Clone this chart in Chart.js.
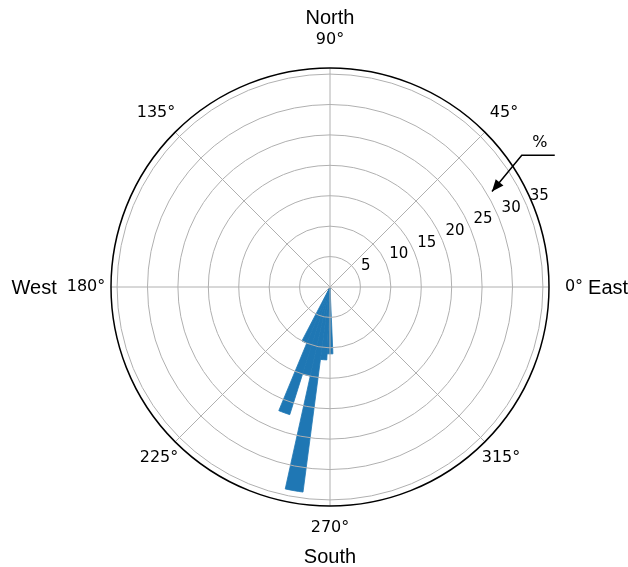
<!DOCTYPE html>
<html>
<head>
<meta charset="utf-8">
<script src="https://cdn.jsdelivr.net/npm/chart.js@4.4.0/dist/chart.umd.min.js"></script>
<style>
    html, body { margin: 0; padding: 0; background: #fff; }
    canvas { display: block; }
</style>
</head>
<body>
<canvas id="rose" width="628" height="567"></canvas>
<script>
// Direction bins (deg, counter-clockwise from East) and share of time (%)
const directions = [245, 250, 255, 260, 265, 270];
const percents = [10, 22, 15, 34, 12, 11];
const binWidth = 5;

// Radial axis
const rMax = 36;
const ringTicks = [5, 10, 15, 20, 25, 30, 35];
const ringLabelAngle = 22.5;

// Angular axis
const thetaTicks = [0, 45, 90, 135, 180, 225, 270, 315];
const compassNames = ['East', 'North', 'West', 'South'];

const BAR_BLUE = '#1f77b4';
const GRID_GREY = '#b0b0b0';

// Chart.js polarArea runs clockwise from the top, so turn the bins into
// consecutive arcs (empty arcs fill the gaps between bins)
function buildSegments() {
    const bins = directions.map((d, i) => {
        const c = ((90 - d) % 360 + 360) % 360;
        return { start: c - binWidth / 2, value: percents[i] };
    }).sort((a, b) => a.start - b.start);

    const values = [];
    const angles = [];
    let cursor = 0;
    bins.forEach(b => {
        if (b.start > cursor) {
            values.push(0);
            angles.push(b.start - cursor);
        }
        values.push(b.value);
        angles.push(binWidth);
        cursor = b.start + binWidth;
    });
    if (cursor < 360) {
        values.push(0);
        angles.push(360 - cursor);
    }
    return { values, angles };
}

const segs = buildSegments();

// Spokes, outer spine, labels and the "%" pointer
const polarDecor = {
    id: 'polarDecor',
    afterDraw(chart) {
        const r = chart.scales.r;
        const ctx = chart.ctx;
        const cx = r.xCenter;
        const cy = r.yCenter;
        const edge = r.getDistanceFromCenterForValue(rMax);
        const at = (value, deg) => {
            const d = r.getDistanceFromCenterForValue(value);
            const a = deg * Math.PI / 180;
            return { x: cx + d * Math.cos(a), y: cy - d * Math.sin(a) };
        };

        ctx.save();

        // spokes every 45 deg
        ctx.strokeStyle = GRID_GREY;
        ctx.lineWidth = 1;
        thetaTicks.forEach(t => {
            const p = at(rMax, t);
            ctx.beginPath();
            ctx.moveTo(cx, cy);
            ctx.lineTo(p.x, p.y);
            ctx.stroke();
        });

        // outer spine
        ctx.strokeStyle = '#000';
        ctx.lineWidth = 1.5;
        ctx.beginPath();
        ctx.arc(cx, cy, edge, 0, Math.PI * 2);
        ctx.stroke();

        // ring labels
        ctx.fillStyle = '#000';
        ctx.font = '15px "DejaVu Sans"';
        ctx.textAlign = 'left';
        ctx.textBaseline = 'alphabetic';
        ringTicks.forEach(v => {
            const p = at(v, ringLabelAngle);
            ctx.fillText(String(v), p.x + 3, p.y - 5.5);
        });

        // angle labels
        ctx.font = '16px "DejaVu Sans"';
        ctx.textAlign = 'center';
        ctx.textBaseline = 'middle';
        thetaTicks.forEach(t => {
            const a = t * Math.PI / 180;
            const d = edge + 25 + 3 * Math.sin(a);
            ctx.fillText(t + '\u00B0', cx + d * Math.cos(a), cy - d * Math.sin(a));
        });
        const w180 = ctx.measureText('180\u00B0').width;
        const w0 = ctx.measureText('0\u00B0').width;

        // compass words
        ctx.font = '20px "Liberation Sans", Arial, sans-serif';
        ctx.textBaseline = 'alphabetic';
        ctx.textAlign = 'center';
        ctx.fillText(compassNames[1], cx, cy - edge - 44);
        ctx.fillText(compassNames[3], cx, cy + edge + 57);
        ctx.textBaseline = 'middle';
        ctx.textAlign = 'right';
        ctx.fillText(compassNames[2], cx - edge - 25 - w180 / 2 - 10, cy + 1);
        ctx.textAlign = 'left';
        ctx.fillText(compassNames[0], cx + edge + 25 + w0 / 2 + 5, cy + 1);

        // "%" pointer
        const tip = at(30.9, 30.5);
        const elbow = at(38.25, 34.5);
        ctx.strokeStyle = '#000';
        ctx.lineWidth = 1.5;
        ctx.beginPath();
        ctx.moveTo(elbow.x + 33, elbow.y);
        ctx.lineTo(elbow.x, elbow.y);
        ctx.lineTo(tip.x, tip.y);
        ctx.stroke();
        const ang = Math.atan2(tip.y - elbow.y, tip.x - elbow.x);
        const len = 12, half = 5;
        ctx.beginPath();
        ctx.moveTo(tip.x, tip.y);
        ctx.lineTo(tip.x - len * Math.cos(ang) + half * Math.sin(ang),
                   tip.y - len * Math.sin(ang) - half * Math.cos(ang));
        ctx.lineTo(tip.x - len * Math.cos(ang) - half * Math.sin(ang),
                   tip.y - len * Math.sin(ang) + half * Math.cos(ang));
        ctx.closePath();
        ctx.fillStyle = '#000';
        ctx.fill();

        ctx.font = '16px "DejaVu Sans"';
        ctx.textAlign = 'center';
        ctx.textBaseline = 'middle';
        ctx.fillText('%', elbow.x + 18, elbow.y - 12);

        ctx.restore();
    }
};

new Chart(document.getElementById('rose'), {
    type: 'polarArea',
    data: {
        labels: segs.values.map((v, i) => 'seg' + i),
        datasets: [{
            data: segs.values,
            angle: segs.angles,
            backgroundColor: segs.values.map(v => v > 0 ? BAR_BLUE : 'rgba(0,0,0,0)'),
            borderColor: BAR_BLUE,
            // thin same-colour edge hides the anti-aliasing seams between arcs
            borderWidth: segs.values.map(v => v > 0 ? 0.8 : 0)
        }]
    },
    options: {
        responsive: false,
        animation: false,
        layout: {
            padding: { left: 111, right: 79, top: 68, bottom: 61 }
        },
        plugins: {
            legend: { display: false },
            tooltip: { enabled: false }
        },
        scales: {
            r: {
                min: 0,
                max: rMax,
                startAngle: 0,
                ticks: { display: false, stepSize: 5, includeBounds: false },
                grid: { color: GRID_GREY, lineWidth: 1, circular: true, z: 1 },
                angleLines: { display: false },
                pointLabels: { display: false }
            }
        }
    },
    plugins: [polarDecor]
});
</script>
</body>
</html>
